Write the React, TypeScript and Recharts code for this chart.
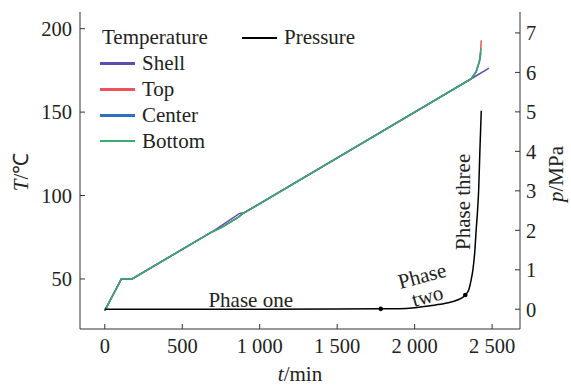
import { LineChart, Line, XAxis, YAxis, Legend, ReferenceDot } from 'recharts';

const timeTicks = [0, 500, 1000, 1500, 2000, 2500];
const tempTicks = [50, 100, 150, 200];
const pressureTicks = [0, 1, 2, 3, 4, 5, 6, 7];
const legendOrder = ['Shell', 'Top', 'Center', 'Bottom'];

const shellData = [
  { t: 0, T: 31 }, { t: 107, T: 50 }, { t: 176, T: 50 }, { t: 700, T: 78.7 },
  { t: 870, T: 89.3 }, { t: 900, T: 89.7 }, { t: 2366, T: 170 }, { t: 2480, T: 176.3 },
];
const topData = [
  { t: 0, T: 31 }, { t: 107, T: 50 }, { t: 176, T: 50 }, { t: 680, T: 77.6 },
  { t: 760, T: 81.2 }, { t: 860, T: 86.9 }, { t: 890, T: 89.1 }, { t: 2366, T: 170 },
  { t: 2397, T: 174.4 }, { t: 2412, T: 178.3 }, { t: 2419, T: 181.4 }, { t: 2425, T: 186 }, { t: 2430, T: 193 },
];
const centerData = [
  { t: 0, T: 31 }, { t: 107, T: 50 }, { t: 176, T: 50 }, { t: 680, T: 77.6 },
  { t: 760, T: 81.2 }, { t: 860, T: 86.9 }, { t: 890, T: 89.1 }, { t: 2366, T: 170 },
  { t: 2397, T: 174.2 }, { t: 2419, T: 180.5 }, { t: 2428, T: 185.6 },
];
const bottomData = [
  { t: 0, T: 31 }, { t: 107, T: 50 }, { t: 176, T: 50 }, { t: 680, T: 77.6 },
  { t: 760, T: 81.2 }, { t: 860, T: 86.9 }, { t: 890, T: 89.1 }, { t: 2366, T: 170 },
  { t: 2397, T: 174.3 }, { t: 2419, T: 181 }, { t: 2429, T: 188.4 },
];
const pressureData = [
  { t: 0, p: 0 }, { t: 500, p: 0 }, { t: 1000, p: 0 }, { t: 1500, p: 0.005 },
  { t: 1781, p: 0.01 }, { t: 1900, p: 0.015 }, { t: 2000, p: 0.04 }, { t: 2100, p: 0.09 },
  { t: 2200, p: 0.15 }, { t: 2280, p: 0.24 }, { t: 2327, p: 0.36 }, { t: 2350, p: 0.5 },
  { t: 2365, p: 0.75 }, { t: 2376, p: 1.0 }, { t: 2388, p: 1.45 }, { t: 2397, p: 2.0 },
  { t: 2406, p: 2.5 }, { t: 2413, p: 3.0 }, { t: 2421, p: 4.0 }, { t: 2430, p: 5.03 },
];
// boundaries between phases
const phaseMarks = [
  { t: 1781, p: 0.01 },
  { t: 2327, p: 0.36 },
];
const phaseLabels = [
  { t: 942, p: 0.235, lines: ['Phase one'], angle: 0 },
  { t: 2065, p: 0.59, lines: ['Phase', 'two'], angle: -15 },
  { t: 2310, p: 2.72, lines: ['Phase three'], angle: -90 },
];

const FONT = "'Liberation Serif'";
const FS = 20.5;
const LFS = 21;
const AXIS = '#333';

const fmtTime = (v: number) =>
  v >= 1000 ? `${Math.floor(v / 1000)} ${String(v % 1000).padStart(3, '0')}` : `${v}`;

const legendLine = (color: string) => (
  <span style={{ display: 'inline-block', width: 35, height: 2.5, background: color, marginRight: 7, verticalAlign: 'middle' }} />
);

const renderLegend = (props: any) => {
  const items = (props.payload || [])
    .filter((p: any) => p.value !== 'Pressure')
    .sort((a: any, b: any) => legendOrder.indexOf(a.value) - legendOrder.indexOf(b.value));
  const rowStyle: any = { height: 25.8, display: 'flex', alignItems: 'center', whiteSpace: 'nowrap' };
  return (
    <div style={{ fontFamily: FONT, fontSize: LFS, color: '#222', lineHeight: 1, position: 'relative', width: 300 }}>
      <div style={rowStyle}>
        <span style={{ marginLeft: 2, width: 140 }}>Temperature</span>
        {legendLine('#000')}
        <span>Pressure</span>
      </div>
      {items.map((it: any) => (
        <div key={it.value} style={rowStyle}>
          {legendLine(it.color)}
          <span>{it.value}</span>
        </div>
      ))}
    </div>
  );
};

const phaseLabel = (lines: string[], angle: number) => (props: any) => {
  const { x, y } = props.viewBox;
  const lh = LFS * 1.0;
  const off = -((lines.length - 1) * lh) / 2;
  return (
    <text
      x={x}
      y={y}
      textAnchor="middle"
      dominantBaseline="central"
      fontFamily={FONT}
      fontSize={LFS}
      fill="#222"
      transform={`rotate(${angle} ${x} ${y})`}
    >
      {lines.map((l, i) => (
        <tspan key={i} x={x} dy={i === 0 ? off : lh}>{l}</tspan>
      ))}
    </text>
  );
};

const tickStyle = { fill: '#222', fontSize: FS, fontFamily: FONT };

export default function App() {
  return (
    <div style={{ position: 'absolute', left: 0, top: 0, fontFamily: FONT }}>
      <LineChart width={571} height={385} margin={{ top: 12, right: 0, left: 0, bottom: 0 }}>
        <XAxis
          dataKey="t"
          type="number"
          domain={[-160, 2680]}
          ticks={timeTicks}
          tickFormatter={fmtTime}
          allowDataOverflow
          height={56}
          stroke={AXIS}
          tickSize={-5}
          tickMargin={14}
          tick={tickStyle}
          label={(p: any) => {
            const vb = p.viewBox;
            return (
              <text x={vb.x + vb.width / 2} y={381} textAnchor="middle" fontFamily={FONT} fontSize={LFS} fill="#222">
                <tspan fontStyle="italic">t</tspan>/min
              </text>
            );
          }}
        />
        <XAxis xAxisId="top" orientation="top" type="number" domain={[-160, 2680]} height={0} tick={false} tickLine={false} stroke={AXIS} />
        <YAxis
          yAxisId="T"
          type="number"
          domain={[20, 210]}
          ticks={tempTicks}
          allowDataOverflow
          width={80}
          stroke={AXIS}
          tickSize={-5}
          tickMargin={13}
          tick={tickStyle}
          label={() => {
            const cy = 172;
            return (
              <text x={21} y={cy} textAnchor="middle" dominantBaseline="central" fontFamily={FONT} fontSize={LFS} fill="#222" transform={`rotate(-90 21 ${cy})`}>
                <tspan fontStyle="italic">T</tspan>/℃
              </text>
            );
          }}
        />
        <YAxis
          yAxisId="p"
          orientation="right"
          type="number"
          domain={[-0.5, 7.53]}
          ticks={pressureTicks}
          allowDataOverflow
          width={51}
          stroke={AXIS}
          tickSize={-5}
          tickMargin={11}
          tick={tickStyle}
          label={() => {
            const cy = 174;
            return (
              <text x={556} y={cy} textAnchor="middle" dominantBaseline="central" fontFamily={FONT} fontSize={LFS} fill="#222" transform={`rotate(-90 556 ${cy})`}>
                <tspan fontStyle="italic">p</tspan>/MPa
              </text>
            );
          }}
        />
        <Legend
          layout="horizontal"
          verticalAlign="middle"
          align="center"
          content={renderLegend}
          wrapperStyle={{ left: 100, top: 25, width: 300 }}
        />
        <Line yAxisId="T" data={shellData} dataKey="T" name="Shell" stroke="#5a4fb0" strokeWidth={1.5} dot={false} isAnimationActive={false} />
        <Line yAxisId="T" data={topData} dataKey="T" name="Top" stroke="#f0525c" strokeWidth={1.5} dot={false} isAnimationActive={false} />
        <Line yAxisId="T" data={centerData} dataKey="T" name="Center" stroke="#2e6fc2" strokeWidth={1.5} dot={false} isAnimationActive={false} />
        <Line yAxisId="T" data={bottomData} dataKey="T" name="Bottom" stroke="#3aaa6e" strokeWidth={1.5} dot={false} isAnimationActive={false} />
        <Line yAxisId="p" data={pressureData} dataKey="p" name="Pressure" type="monotone" stroke="#000" strokeWidth={1.5} dot={false} isAnimationActive={false} />
        {phaseMarks.map((m, i) => (
          <ReferenceDot key={`m${i}`} yAxisId="p" x={m.t} y={m.p} r={2.3} fill="#000" stroke="none" />
        ))}
        {phaseLabels.map((l, i) => (
          <ReferenceDot key={`l${i}`} yAxisId="p" x={l.t} y={l.p} r={0} fill="none" stroke="none" label={phaseLabel(l.lines, l.angle)} />
        ))}
      </LineChart>
    </div>
  );
}
